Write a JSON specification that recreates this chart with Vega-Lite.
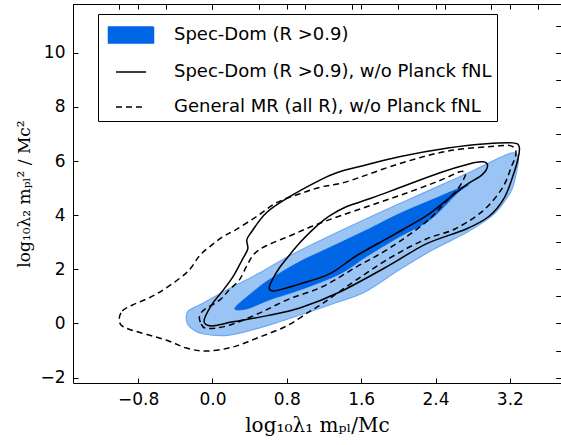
{
  "$schema": "https://vega.github.io/schema/vega-lite/v6.json",
  "width": 488,
  "height": 379,
  "autosize": {"type": "none"},
  "padding": {"left": 73, "top": 4, "right": 0, "bottom": 62},
  "background": "white",
  "config": {
    "aria": false,
    "view": {"stroke": "black", "strokeWidth": 1},
    "axis": {
      "domain": false,
      "grid": false,
      "labelFont": "DejaVu Sans",
      "labelFontSize": 17,
      "labelColor": "black",
      "tickColor": "black",
      "tickSize": -5,
      "tickWidth": 1,
      "labelPadding": 13,
      "titleFont": "DejaVu Serif",
      "titleFontWeight": "normal",
      "titleColor": "black"
    }
  },
  "layer": [
    {
      "data": {"values": [
        {"i": 0, "x": -0.28, "y": 0.13}, {"i": 1, "x": -0.26, "y": 0.46}, {"i": 2, "x": -0.14, "y": 0.68},
        {"i": 3, "x": 0.18, "y": 1.28}, {"i": 4, "x": 0.51, "y": 1.87}, {"i": 5, "x": 0.83, "y": 2.50},
        {"i": 6, "x": 1.26, "y": 3.23}, {"i": 7, "x": 1.72, "y": 3.97}, {"i": 8, "x": 2.01, "y": 4.42},
        {"i": 9, "x": 2.44, "y": 5.08}, {"i": 10, "x": 2.82, "y": 5.67}, {"i": 11, "x": 3.09, "y": 6.12},
        {"i": 12, "x": 3.23, "y": 6.30}, {"i": 13, "x": 3.29, "y": 6.16}, {"i": 14, "x": 3.28, "y": 5.75},
        {"i": 15, "x": 3.22, "y": 4.94}, {"i": 16, "x": 3.09, "y": 4.27}, {"i": 17, "x": 2.98, "y": 3.90},
        {"i": 18, "x": 2.73, "y": 3.35}, {"i": 19, "x": 2.37, "y": 2.72}, {"i": 20, "x": 2.01, "y": 1.98},
        {"i": 21, "x": 1.64, "y": 1.16}, {"i": 22, "x": 1.29, "y": 0.72}, {"i": 23, "x": 0.94, "y": 0.31},
        {"i": 24, "x": 0.58, "y": -0.09}, {"i": 25, "x": 0.18, "y": -0.43}, {"i": 26, "x": -0.09, "y": -0.39},
        {"i": 27, "x": -0.23, "y": -0.17}
      ]},
      "mark": {"type": "line", "interpolate": "cardinal-closed", "fill": "#9ac4f4", "stroke": "#6ea9ef", "strokeWidth": 1.2, "clip": true},
      "encoding": {
        "x": {"field": "x", "type": "quantitative", "scale": {"domain": [-1.5, 3.75], "nice": false, "zero": false},
          "axis": {"orient": "bottom", "values": [-0.8, 0, 0.8, 1.6, 2.4, 3.2], "format": ".1f", "title": "log₁₀λ₁ mₚₗ/Mc", "titleFontSize": 20, "titlePadding": 8}},
        "y": {"field": "y", "type": "quantitative", "scale": {"domain": [-2.2, 11.8], "nice": false, "zero": false},
          "axis": {"orient": "left", "values": [-2, 0, 2, 4, 6, 8, 10], "format": "d", "title": "log₁₀λ₂ mₚₗ² / Mc²", "titleFontSize": 17, "titlePadding": 6}},
        "order": {"field": "i", "type": "quantitative"}
      }
    },
    {
      "data": {"values": [
        {"i": 0, "x": 0.25, "y": 0.61}, {"i": 1, "x": 0.40, "y": 1.06}, {"i": 2, "x": 0.61, "y": 1.61},
        {"i": 3, "x": 0.94, "y": 2.28}, {"i": 4, "x": 1.26, "y": 2.80}, {"i": 5, "x": 1.69, "y": 3.50},
        {"i": 6, "x": 2.01, "y": 4.05}, {"i": 7, "x": 2.44, "y": 4.68}, {"i": 8, "x": 2.75, "y": 5.12},
        {"i": 9, "x": 2.63, "y": 4.80}, {"i": 10, "x": 2.34, "y": 3.83}, {"i": 11, "x": 2.01, "y": 3.20},
        {"i": 12, "x": 1.66, "y": 2.48}, {"i": 13, "x": 1.37, "y": 1.83}, {"i": 14, "x": 0.94, "y": 1.24},
        {"i": 15, "x": 0.61, "y": 0.87}, {"i": 16, "x": 0.40, "y": 0.57}, {"i": 17, "x": 0.27, "y": 0.50}
      ]},
      "mark": {"type": "line", "interpolate": "cardinal-closed", "fill": "#0066e6", "stroke": "#0066e6", "strokeWidth": 0.8, "clip": true},
      "encoding": {
        "x": {"field": "x", "type": "quantitative"},
        "y": {"field": "y", "type": "quantitative"},
        "order": {"field": "i", "type": "quantitative"}
      }
    },
    {
      "data": {"values": [
        {"c": "so", "i": 0, "x": -0.09, "y": 0.09}, {"c": "so", "i": 1, "x": -0.01, "y": 0.68},
        {"c": "so", "i": 2, "x": 0.10, "y": 1.16}, {"c": "so", "i": 3, "x": 0.22, "y": 1.72},
        {"c": "so", "i": 4, "x": 0.32, "y": 2.35}, {"c": "so", "i": 5, "x": 0.38, "y": 2.75},
        {"c": "so", "i": 6, "x": 0.37, "y": 3.09}, {"c": "so", "i": 7, "x": 0.42, "y": 3.38},
        {"c": "so", "i": 8, "x": 0.58, "y": 4.09}, {"c": "so", "i": 9, "x": 0.83, "y": 4.68},
        {"c": "so", "i": 10, "x": 1.12, "y": 5.23}, {"c": "so", "i": 11, "x": 1.33, "y": 5.56},
        {"c": "so", "i": 12, "x": 1.66, "y": 5.86}, {"c": "so", "i": 13, "x": 2.01, "y": 6.16},
        {"c": "so", "i": 14, "x": 2.55, "y": 6.49}, {"c": "so", "i": 15, "x": 2.95, "y": 6.64},
        {"c": "so", "i": 16, "x": 3.23, "y": 6.67}, {"c": "so", "i": 17, "x": 3.30, "y": 6.53},
        {"c": "so", "i": 18, "x": 3.29, "y": 6.12}, {"c": "so", "i": 19, "x": 3.23, "y": 5.42},
        {"c": "so", "i": 20, "x": 3.14, "y": 4.64}, {"c": "so", "i": 21, "x": 2.98, "y": 3.97},
        {"c": "so", "i": 22, "x": 2.73, "y": 3.49}, {"c": "so", "i": 23, "x": 2.30, "y": 2.94},
        {"c": "so", "i": 24, "x": 1.91, "y": 2.16}, {"c": "so", "i": 25, "x": 1.37, "y": 1.16},
        {"c": "so", "i": 26, "x": 0.94, "y": 0.57}, {"c": "so", "i": 27, "x": 0.58, "y": 0.28},
        {"c": "so", "i": 28, "x": 0.22, "y": 0.06}, {"c": "so", "i": 29, "x": -0.01, "y": -0.09},

        {"c": "si", "i": 0, "x": 0.61, "y": 1.31}, {"c": "si", "i": 1, "x": 0.65, "y": 1.65},
        {"c": "si", "i": 2, "x": 0.72, "y": 2.05}, {"c": "si", "i": 3, "x": 0.83, "y": 2.53},
        {"c": "si", "i": 4, "x": 0.94, "y": 2.98}, {"c": "si", "i": 5, "x": 1.10, "y": 3.53},
        {"c": "si", "i": 6, "x": 1.26, "y": 3.97}, {"c": "si", "i": 7, "x": 1.44, "y": 4.31},
        {"c": "si", "i": 8, "x": 1.72, "y": 4.64}, {"c": "si", "i": 9, "x": 2.01, "y": 5.01},
        {"c": "si", "i": 10, "x": 2.44, "y": 5.56}, {"c": "si", "i": 11, "x": 2.77, "y": 5.90},
        {"c": "si", "i": 12, "x": 2.91, "y": 5.97}, {"c": "si", "i": 13, "x": 2.96, "y": 5.82},
        {"c": "si", "i": 14, "x": 2.90, "y": 5.49}, {"c": "si", "i": 15, "x": 2.73, "y": 5.12},
        {"c": "si", "i": 16, "x": 2.55, "y": 4.64}, {"c": "si", "i": 17, "x": 2.30, "y": 3.97},
        {"c": "si", "i": 18, "x": 1.91, "y": 3.20}, {"c": "si", "i": 19, "x": 1.55, "y": 2.50},
        {"c": "si", "i": 20, "x": 1.26, "y": 1.83}, {"c": "si", "i": 21, "x": 0.94, "y": 1.46},
        {"c": "si", "i": 22, "x": 0.72, "y": 1.24}, {"c": "si", "i": 23, "x": 0.65, "y": 1.20}
      ]},
      "mark": {"type": "line", "interpolate": "cardinal-closed", "stroke": "black", "strokeWidth": 1.5, "clip": true},
      "encoding": {
        "x": {"field": "x", "type": "quantitative",
          "axis": {"orient": "top", "values": [-0.8, 0, 0.8, 1.6, 2.4, 3.2], "labels": false, "title": null}},
        "y": {"field": "y", "type": "quantitative",
          "axis": {"orient": "right", "values": [-2, 0, 2, 4, 6, 8, 10], "labels": false, "title": null}},
        "detail": {"field": "c"},
        "order": {"field": "i", "type": "quantitative"}
      }
    },
    {
      "data": {"values": [
        {"c": "do", "i": 0, "x": -1.00, "y": 0.13}, {"c": "do", "i": 1, "x": -0.97, "y": 0.46},
        {"c": "do", "i": 2, "x": -0.86, "y": 0.68}, {"c": "do", "i": 3, "x": -0.60, "y": 1.09},
        {"c": "do", "i": 4, "x": -0.28, "y": 1.87}, {"c": "do", "i": 5, "x": -0.14, "y": 2.50},
        {"c": "do", "i": 6, "x": -0.03, "y": 2.83}, {"c": "do", "i": 7, "x": 0.11, "y": 3.20},
        {"c": "do", "i": 8, "x": 0.25, "y": 3.46}, {"c": "do", "i": 9, "x": 0.47, "y": 3.94},
        {"c": "do", "i": 10, "x": 0.69, "y": 4.46}, {"c": "do", "i": 11, "x": 0.94, "y": 4.79},
        {"c": "do", "i": 12, "x": 1.18, "y": 5.05}, {"c": "do", "i": 13, "x": 1.44, "y": 5.23},
        {"c": "do", "i": 14, "x": 2.01, "y": 5.90}, {"c": "do", "i": 15, "x": 2.55, "y": 6.38},
        {"c": "do", "i": 16, "x": 3.09, "y": 6.56}, {"c": "do", "i": 17, "x": 3.21, "y": 6.56},
        {"c": "do", "i": 18, "x": 3.26, "y": 6.41}, {"c": "do", "i": 19, "x": 3.26, "y": 6.16},
        {"c": "do", "i": 20, "x": 3.22, "y": 5.82}, {"c": "do", "i": 21, "x": 3.12, "y": 5.01},
        {"c": "do", "i": 22, "x": 2.91, "y": 4.16}, {"c": "do", "i": 23, "x": 2.61, "y": 3.49},
        {"c": "do", "i": 24, "x": 2.30, "y": 3.12}, {"c": "do", "i": 25, "x": 1.91, "y": 2.42},
        {"c": "do", "i": 26, "x": 1.44, "y": 1.35}, {"c": "do", "i": 27, "x": 1.18, "y": 0.72},
        {"c": "do", "i": 28, "x": 1.04, "y": 0.43}, {"c": "do", "i": 29, "x": 0.80, "y": -0.09},
        {"c": "do", "i": 30, "x": 0.51, "y": -0.50}, {"c": "do", "i": 31, "x": 0.22, "y": -0.87},
        {"c": "do", "i": 32, "x": -0.06, "y": -1.02}, {"c": "do", "i": 33, "x": -0.28, "y": -0.91},
        {"c": "do", "i": 34, "x": -0.50, "y": -0.61}, {"c": "do", "i": 35, "x": -0.93, "y": -0.17},

        {"c": "di", "i": 0, "x": -0.14, "y": 0.24}, {"c": "di", "i": 1, "x": -0.12, "y": -0.02},
        {"c": "di", "i": 2, "x": -0.08, "y": -0.17}, {"c": "di", "i": 3, "x": 0.04, "y": -0.17},
        {"c": "di", "i": 4, "x": 0.22, "y": -0.02}, {"c": "di", "i": 5, "x": 0.51, "y": 0.39},
        {"c": "di", "i": 6, "x": 0.83, "y": 0.91}, {"c": "di", "i": 7, "x": 1.18, "y": 1.35},
        {"c": "di", "i": 8, "x": 1.55, "y": 2.09}, {"c": "di", "i": 9, "x": 1.91, "y": 2.79},
        {"c": "di", "i": 10, "x": 2.30, "y": 3.75}, {"c": "di", "i": 11, "x": 2.50, "y": 4.46},
        {"c": "di", "i": 12, "x": 2.64, "y": 4.97}, {"c": "di", "i": 13, "x": 2.71, "y": 5.38},
        {"c": "di", "i": 14, "x": 2.72, "y": 5.56}, {"c": "di", "i": 15, "x": 2.66, "y": 5.60},
        {"c": "di", "i": 16, "x": 2.44, "y": 5.27}, {"c": "di", "i": 17, "x": 2.09, "y": 4.82},
        {"c": "di", "i": 18, "x": 1.72, "y": 4.38}, {"c": "di", "i": 19, "x": 1.37, "y": 3.97},
        {"c": "di", "i": 20, "x": 1.08, "y": 3.60}, {"c": "di", "i": 21, "x": 0.83, "y": 3.23},
        {"c": "di", "i": 22, "x": 0.58, "y": 2.87}, {"c": "di", "i": 23, "x": 0.45, "y": 2.57},
        {"c": "di", "i": 24, "x": 0.37, "y": 2.13}, {"c": "di", "i": 25, "x": 0.29, "y": 1.61},
        {"c": "di", "i": 26, "x": 0.18, "y": 1.24}, {"c": "di", "i": 27, "x": 0.08, "y": 0.87},
        {"c": "di", "i": 28, "x": -0.09, "y": 0.50}
      ]},
      "mark": {"type": "line", "interpolate": "cardinal-closed", "stroke": "black", "strokeWidth": 1.5, "strokeDash": [6, 4], "clip": true},
      "encoding": {
        "x": {"field": "x", "type": "quantitative"},
        "y": {"field": "y", "type": "quantitative"},
        "detail": {"field": "c"},
        "order": {"field": "i", "type": "quantitative"}
      }
    },
    {
      "data": {"values": [{"g": "A"}, {"g": "B"}, {"g": "C"}]},
      "mark": {"type": "point", "opacity": 0},
      "encoding": {
        "shape": {
          "field": "g",
          "type": "nominal",
          "scale": {"domain": ["A", "B", "C"], "range": ["M-1.5,-0.53H1.5V0.53H-1.5Z", "M-1,0H1", "M-1,0H1"]},
          "legend": {
            "title": null,
            "orient": "none",
            "legendX": 25,
            "legendY": 10,
            "strokeColor": "black",
            "fillColor": "white",
            "padding": 5,
            "cornerRadius": 0,
            "symbolSize": 900,
            "symbolStrokeWidth": 1.5,
            "symbolOpacity": 1,
            "symbolOffset": 12,
            "labelOffset": 27,
            "rowPadding": 10,
            "labelFont": "DejaVu Sans",
            "labelFontSize": 18,
            "labelColor": "black",
            "labelLimit": 500,
            "labelExpr": "datum.value === 'A' ? 'Spec-Dom (R >0.9)' : datum.value === 'B' ? 'Spec-Dom (R >0.9), w/o Planck fNL' : 'General MR (all R), w/o Planck fNL'"
          }
        },
        "fill": {
          "field": "g",
          "type": "nominal",
          "scale": {"domain": ["A", "B", "C"], "range": ["#0066e6", "transparent", "transparent"]}
        },
        "stroke": {
          "field": "g",
          "type": "nominal",
          "scale": {"domain": ["A", "B", "C"], "range": ["#0066e6", "black", "black"]}
        },
        "strokeDash": {
          "field": "g",
          "type": "nominal",
          "scale": {"domain": ["A", "B", "C"], "range": [[1, 0], [1, 0], [6, 4]]}
        }
      }
    }
  ]
}
